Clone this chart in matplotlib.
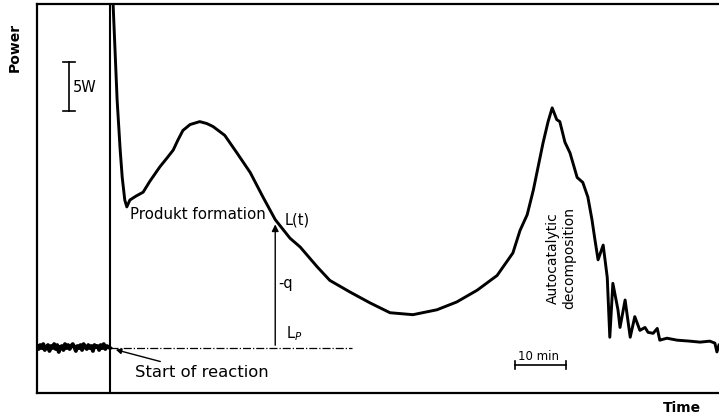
import numpy as np
import matplotlib
matplotlib.use("Agg")
from matplotlib import pyplot as plt

# heat flow trace, time in min (0 = start of reaction), power in W above L_P
base_t = np.linspace(-14.3, 0.0, 48)
base_p = [0.2, -0.1, 0.3, 0.0, 0.4, -0.2, 0.1, 0.3, -0.3, 0.2,
          0.0, 0.4, -0.1, 0.3, -0.4, 0.1, 0.2, -0.2, 0.4, 0.0,
          0.3, -0.1, 0.2, 0.4, 0.1, -0.3, 0.2, 0.0, 0.3, -0.2,
          0.4, 0.1, -0.1, 0.3, 0.0, 0.2, -0.3, 0.3, 0.1, 0.2,
          -0.2, 0.3, 0.0, 0.4, -0.1, 0.2, 0.1, 0.0]

curve_t = [0.6, 1.4, 2.0, 2.4, 2.9, 3.3, 3.9, 5.1, 6.5, 7.8,
           9.8, 11.2, 12.4, 13.3, 14.3, 15.7, 17.6, 19.0, 20.2, 22.5,
           24.9, 27.5, 30.0, 32.4, 35.3, 37.3, 40.6, 43.1, 47.1, 51.0,
           54.9, 59.4, 64.1, 68.0, 72.0, 75.9, 79.0, 80.4, 81.8, 83.0,
           84.9, 85.9, 86.7, 87.6, 88.2, 89.2, 90.2, 91.6, 92.7, 93.7,
           94.5, 95.1, 95.7, 96.7, 97.5, 98.0, 98.6, 99.6, 100.0, 101.0,
           102.0, 102.9, 103.9, 104.9, 105.5, 106.5, 107.3, 107.8, 109.2, 111.2,
           113.7, 115.7, 117.6, 118.6, 119.0, 119.4]
curve_p = [35.2, 25.3, 20.2, 17.4, 15.1, 14.4, 15.1, 15.5, 15.9, 17.0,
           18.5, 19.4, 20.2, 21.2, 22.2, 22.8, 23.1, 22.9, 22.6, 21.7,
           19.9, 17.9, 15.4, 13.1, 11.2, 10.3, 8.3, 6.9, 5.7, 4.6,
           3.6, 3.4, 3.9, 4.7, 5.9, 7.4, 9.7, 12.0, 13.6, 16.1,
           20.9, 23.1, 24.5, 23.3, 23.1, 21.0, 19.9, 17.4, 16.9, 15.4,
           13.1, 11.0, 9.0, 10.5, 7.2, 1.1, 6.6, 3.9, 2.1, 4.9,
           1.1, 3.2, 1.8, 2.1, 1.6, 1.5, 2.0, 0.8, 1.0, 0.8,
           0.7, 0.6, 0.7, 0.5, -0.4, 0.3]

fig = plt.figure(figsize=(7.19, 4.17), dpi=100)
ax = fig.add_axes([37 / 719, 1 - 393 / 417, 1 - 37 / 719, 389 / 417])
ax.set_xlim(-14.31, 119.41)
ax.set_ylim(-4.59, 35.1)
for s in ["left", "top", "bottom"]:
    ax.spines[s].set_linewidth(1.6)
ax.spines["right"].set_visible(False)
ax.set_xticks([])
ax.set_yticks([])

ax.plot(base_t, base_p, color="black", lw=2.8)
ax.plot(curve_t, curve_p, color="black", lw=2.1, solid_joinstyle="round")
ax.axvline(0.0, color="black", lw=1.5)
ax.plot([0, 47.5], [0, 0], color="black", lw=0.9, ls="-.")

# q arrow from L_P up to L(t)
ax.annotate("", xy=(32.4, 12.9), xytext=(32.4, 0),
            arrowprops=dict(arrowstyle="-|>", color="black", lw=1.0, mutation_scale=10))
ax.text(3.9, 13.6, "Produkt formation", fontsize=10.8, va="center", ha="left")
ax.text(34.3, 13.1, "L(t)", fontsize=10.5, va="center", ha="left")
ax.text(33.0, 6.6, "-q", fontsize=10.5, va="center", ha="left")
ax.text(34.6, 1.5, "L$_P$", fontsize=10.5, va="center", ha="left")

ax.annotate("Start of reaction", xy=(0.6, -0.1), xytext=(4.9, -2.5),
            fontsize=11.8, va="center", ha="left",
            arrowprops=dict(arrowstyle="-|>", color="black", lw=1.0, mutation_scale=8))

ax.text(88.5, 9.2, "Autocatalytic\ndecomposition", fontsize=10, rotation=90,
        va="center", ha="center", linespacing=1.25)

# 10 min scale bar
ax.plot([79.4, 89.4], [-1.7, -1.7], color="black", lw=1.2)
ax.plot([79.4, 79.4], [-2.1, -1.3], color="black", lw=1.2)
ax.plot([89.4, 89.4], [-2.1, -1.3], color="black", lw=1.2)
ax.text(84.0, -0.9, "10 min", fontsize=8.5, va="center", ha="center")

# 5 W scale bar
ax.plot([-8.0, -8.0], [24.2, 29.2], color="black", lw=1.2)
ax.plot([-9.2, -6.9], [29.2, 29.2], color="black", lw=1.2)
ax.plot([-9.2, -6.9], [24.2, 24.2], color="black", lw=1.2)
ax.text(-7.2, 26.6, "5W", fontsize=10.5, va="center", ha="left")

fig.text(15 / 719, 1 - 47 / 417, "Power", rotation=90, fontsize=10,
         fontweight="bold", va="center", ha="center")
fig.text(682 / 719, 1 - 408 / 417, "Time", fontsize=10, fontweight="bold",
         va="center", ha="center")

fig.savefig("out.png", dpi=100)
